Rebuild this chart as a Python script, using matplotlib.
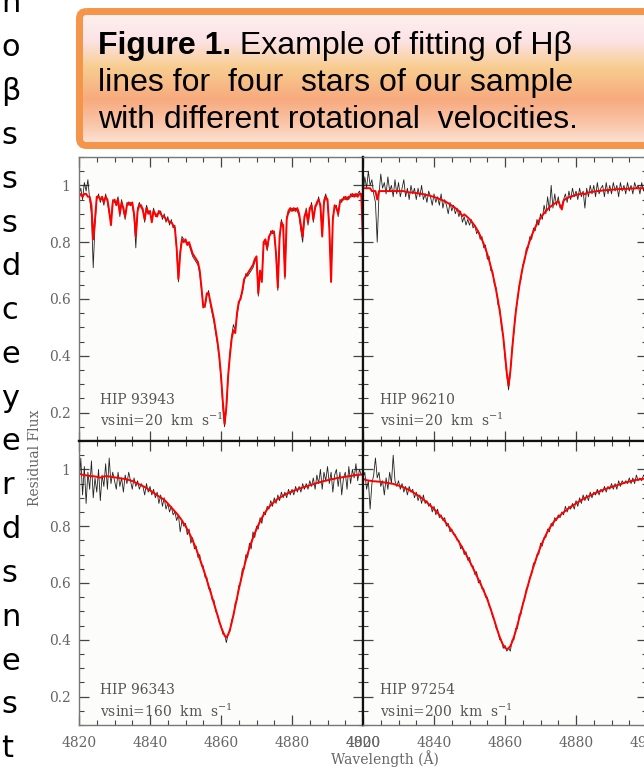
import numpy as np
import matplotlib
matplotlib.use("Agg")
import matplotlib.pyplot as plt
from matplotlib.patches import FancyBboxPatch
from matplotlib.colors import LinearSegmentedColormap
from matplotlib.ticker import MultipleLocator

plt.rcParams['font.family'] = 'DejaVu Serif'
plt.rcParams['mathtext.fontset'] = 'dejavuserif'

# wavelength grid of the spectra (Angstrom)
wave = np.arange(4820.0, 4900.01, 0.5)

stars = ["HIP 93943", "HIP 96210", "HIP 96343", "HIP 97254"]
vsini = [20, 20, 160, 200]

xtick_vals = [4820, 4840, 4860, 4880, 4900]
ytick_vals = [0.2, 0.4, 0.6, 0.8, 1.0]
ytick_labels = ["0.2", "0.4", "0.6", "0.8", "1"]

# letters cut from the text of the neighbouring slide column
side_letters = ['n', 'o', 'β', 's', 's', 's', 'd', 'c', 'e',
                'y', 'e', 'r', 'd', 's', 'n', 'e', 's', 't']

caption_lines = ["lines for  four  stars of our sample",
                 "with different rotational  velocities."]

# HIP 93943 (vsini = 20)
obs_93943 = [
    0.97, 0.99, 0.95, 1.01, 0.98, 1.02, 0.95, 0.90, 0.71, 0.86,
    0.95, 0.97, 0.94, 0.96, 0.93, 0.97, 0.94, 0.90, 0.87, 0.95,
    0.94, 0.94, 0.96, 0.89, 0.95, 0.91, 0.88, 0.94, 0.93, 0.94,
    0.93, 0.89, 0.78, 0.92, 0.94, 0.92, 0.92, 0.87, 0.93, 0.91,
    0.90, 0.88, 0.92, 0.89, 0.90, 0.90, 0.91, 0.88, 0.90, 0.87,
    0.89, 0.86, 0.88, 0.85, 0.86, 0.77, 0.66, 0.77, 0.82, 0.81,
    0.80, 0.80, 0.79, 0.77, 0.75, 0.74, 0.73, 0.72, 0.69, 0.63,
    0.58, 0.57, 0.61, 0.63, 0.58, 0.55, 0.52, 0.48, 0.44, 0.39,
    0.32, 0.22, 0.15, 0.21, 0.32, 0.41, 0.47, 0.51, 0.49, 0.54,
    0.58, 0.61, 0.62, 0.66, 0.69, 0.68, 0.69, 0.70, 0.71, 0.73,
    0.74, 0.61, 0.69, 0.67, 0.79, 0.80, 0.77, 0.81, 0.84, 0.83,
    0.84, 0.75, 0.63, 0.81, 0.88, 0.85, 0.67, 0.89, 0.90, 0.91,
    0.92, 0.91, 0.92, 0.91, 0.89, 0.84, 0.80, 0.88, 0.92, 0.86,
    0.91, 0.94, 0.87, 0.93, 0.93, 0.96, 0.92, 0.83, 0.95, 0.97,
    0.94, 0.86, 0.67, 0.89, 0.92, 0.93, 0.89, 0.95, 0.94, 0.96,
    0.95, 0.96, 0.95, 0.97, 0.96, 0.97, 0.96, 0.97, 0.98, 0.96,
    0.97]
fit_93943 = [
    0.96, 0.97, 0.96, 0.97, 0.97, 0.96, 0.96, 0.93, 0.81, 0.88,
    0.96, 0.96, 0.95, 0.96, 0.94, 0.96, 0.95, 0.91, 0.86, 0.94,
    0.95, 0.93, 0.95, 0.90, 0.94, 0.92, 0.89, 0.93, 0.94, 0.93,
    0.94, 0.90, 0.82, 0.91, 0.93, 0.93, 0.91, 0.88, 0.92, 0.90,
    0.91, 0.87, 0.91, 0.90, 0.89, 0.91, 0.90, 0.89, 0.89, 0.88,
    0.88, 0.87, 0.87, 0.86, 0.85, 0.78, 0.67, 0.76, 0.81, 0.80,
    0.81, 0.79, 0.80, 0.78, 0.76, 0.75, 0.74, 0.73, 0.70, 0.64,
    0.57, 0.58, 0.62, 0.62, 0.59, 0.56, 0.53, 0.49, 0.45, 0.40,
    0.33, 0.24, 0.16, 0.22, 0.33, 0.40, 0.46, 0.49, 0.48, 0.55,
    0.59, 0.60, 0.63, 0.67, 0.68, 0.69, 0.70, 0.71, 0.72, 0.74,
    0.75, 0.62, 0.70, 0.66, 0.80, 0.81, 0.78, 0.82, 0.83, 0.84,
    0.83, 0.76, 0.64, 0.82, 0.87, 0.86, 0.68, 0.88, 0.91, 0.92,
    0.91, 0.92, 0.91, 0.92, 0.90, 0.86, 0.82, 0.89, 0.91, 0.87,
    0.92, 0.93, 0.88, 0.92, 0.94, 0.95, 0.93, 0.82, 0.94, 0.96,
    0.95, 0.85, 0.66, 0.88, 0.93, 0.92, 0.90, 0.94, 0.95, 0.95,
    0.96, 0.95, 0.96, 0.96, 0.97, 0.96, 0.97, 0.96, 0.97, 0.97,
    0.80]

# HIP 96210 (vsini = 20)
obs_96210 = [
    0.97, 1.03, 0.99, 1.05, 1.00, 1.02, 0.97, 0.94, 0.80, 0.97,
    1.04, 0.99, 1.01, 0.97, 1.03, 0.98, 1.00, 0.96, 1.02, 0.97,
    1.01, 0.96, 0.99, 1.02, 0.96, 0.99, 0.95, 1.00, 0.97, 0.99,
    0.95, 0.99, 0.96, 1.00, 0.95, 0.97, 0.94, 0.98, 0.96, 0.93,
    0.97, 0.94, 0.96, 0.93, 0.97, 0.92, 0.95, 0.93, 0.90, 0.94,
    0.91, 0.93, 0.90, 0.92, 0.89, 0.91, 0.87, 0.89, 0.86, 0.88,
    0.86, 0.88, 0.85, 0.86, 0.83, 0.84, 0.81, 0.82, 0.78, 0.79,
    0.74, 0.75, 0.70, 0.70, 0.65, 0.64, 0.58, 0.57, 0.50, 0.47,
    0.39, 0.33, 0.28, 0.34, 0.43, 0.48, 0.56, 0.59, 0.65, 0.67,
    0.72, 0.73, 0.78, 0.78, 0.82, 0.81, 0.85, 0.84, 0.88, 0.86,
    0.90, 0.88, 0.93, 0.90, 0.96, 0.91, 1.00, 0.92, 0.97, 0.93,
    0.96, 0.92, 0.93, 0.95, 0.97, 0.94, 0.98, 0.95, 0.99, 0.96,
    0.98, 0.95, 0.99, 0.96, 0.98, 0.92, 0.99, 0.96, 1.00, 0.97,
    1.00, 0.96, 1.01, 0.97, 0.99, 1.00, 0.96, 1.01, 0.97, 1.00,
    0.97, 1.01, 0.98, 1.00, 0.96, 1.01, 0.98, 1.00, 0.97, 1.01,
    0.98, 1.00, 0.97, 1.01, 0.99, 1.00, 0.97, 1.01, 0.98, 1.00,
    0.99]
fit_96210 = [
    0.99, 0.99, 0.99, 0.99, 0.99, 0.98, 0.98, 0.98, 0.95, 0.98,
    0.98, 0.98, 0.98, 0.98, 0.98, 0.98, 0.98, 0.98, 0.98, 0.98,
    0.98, 0.98, 0.98, 0.98, 0.977, 0.977, 0.975, 0.975, 0.975, 0.974,
    0.973, 0.972, 0.971, 0.970, 0.969, 0.968, 0.966, 0.965, 0.963, 0.961,
    0.959, 0.957, 0.955, 0.952, 0.950, 0.947, 0.944, 0.941, 0.937, 0.933,
    0.929, 0.925, 0.920, 0.915, 0.910, 0.900, 0.892, 0.898, 0.893, 0.887,
    0.881, 0.874, 0.866, 0.857, 0.847, 0.836, 0.823, 0.809, 0.794, 0.777,
    0.758, 0.737, 0.714, 0.689, 0.661, 0.630, 0.596, 0.558, 0.515, 0.466,
    0.405, 0.340, 0.295, 0.345, 0.420, 0.490, 0.550, 0.600, 0.643, 0.680,
    0.712, 0.740, 0.765, 0.787, 0.806, 0.823, 0.838, 0.852, 0.864, 0.875,
    0.885, 0.894, 0.902, 0.909, 0.916, 0.922, 0.927, 0.932, 0.936, 0.940,
    0.944, 0.930, 0.915, 0.946, 0.952, 0.955, 0.958, 0.960, 0.962, 0.964,
    0.966, 0.968, 0.969, 0.971, 0.972, 0.968, 0.974, 0.975, 0.976, 0.977,
    0.978, 0.979, 0.980, 0.981, 0.981, 0.982, 0.983, 0.983, 0.984, 0.984,
    0.985, 0.985, 0.986, 0.986, 0.987, 0.987, 0.987, 0.988, 0.988, 0.988,
    0.989, 0.989, 0.989, 0.989, 0.990, 0.990, 0.990, 0.990, 0.990, 0.990,
    0.990]

# HIP 96343 (vsini = 160)
obs_96343 = [
    0.94, 1.04, 0.91, 1.01, 0.88, 0.99, 0.93, 1.03, 0.90, 0.97,
    0.92, 1.00, 0.89, 0.98, 0.94, 1.02, 0.93, 1.04, 0.95, 0.99,
    0.96, 0.93, 0.99, 0.94, 0.97, 0.92, 0.98, 0.95, 0.99, 0.96,
    0.93, 0.97, 0.94, 0.96, 0.93, 0.95, 0.94, 0.91, 0.95, 0.92,
    0.94, 0.91, 0.93, 0.90, 0.92, 0.88, 0.91, 0.87, 0.90, 0.86,
    0.88, 0.85, 0.87, 0.84, 0.85, 0.82, 0.84, 0.78, 0.82, 0.80,
    0.81, 0.77, 0.79, 0.74, 0.76, 0.72, 0.73, 0.69, 0.70, 0.66,
    0.66, 0.62, 0.62, 0.58, 0.58, 0.54, 0.54, 0.50, 0.49, 0.46,
    0.45, 0.42, 0.42, 0.39, 0.42, 0.43, 0.47, 0.48, 0.53, 0.54,
    0.59, 0.60, 0.65, 0.65, 0.70, 0.69, 0.74, 0.72, 0.78, 0.76,
    0.80, 0.79, 0.83, 0.81, 0.85, 0.84, 0.87, 0.86, 0.89, 0.87,
    0.90, 0.88, 0.91, 0.89, 0.92, 0.90, 0.92, 0.90, 0.93, 0.91,
    0.93, 0.91, 0.94, 0.92, 0.94, 0.92, 0.95, 0.93, 0.95, 0.93,
    0.96, 0.94, 0.97, 0.93, 0.98, 0.95, 1.00, 0.93, 0.99, 0.96,
    1.01, 0.95, 0.99, 0.92, 0.98, 1.00, 0.94, 0.99, 0.91, 0.97,
    0.99, 0.93, 1.01, 0.95, 1.00, 0.97, 1.02, 0.96, 1.00, 0.98,
    0.99]
fit_96343 = [
    0.985, 0.983, 0.981, 0.980, 0.979, 0.978, 0.977, 0.976, 0.976, 0.975,
    0.974, 0.972, 0.971, 0.973, 0.975, 0.976, 0.976, 0.975, 0.974, 0.973,
    0.972, 0.971, 0.970, 0.969, 0.968, 0.967, 0.966, 0.965, 0.963, 0.961,
    0.959, 0.956, 0.953, 0.950, 0.947, 0.944, 0.941, 0.938, 0.934, 0.930,
    0.926, 0.922, 0.918, 0.913, 0.909, 0.905, 0.901, 0.897, 0.893, 0.887,
    0.880, 0.873, 0.866, 0.859, 0.852, 0.845, 0.837, 0.829, 0.820, 0.810,
    0.800, 0.789, 0.777, 0.764, 0.750, 0.735, 0.720, 0.703, 0.686, 0.668,
    0.650, 0.631, 0.611, 0.591, 0.570, 0.549, 0.528, 0.506, 0.485, 0.465,
    0.445, 0.430, 0.415, 0.408, 0.418, 0.435, 0.460, 0.488, 0.518, 0.548,
    0.577, 0.605, 0.632, 0.657, 0.681, 0.703, 0.723, 0.742, 0.759, 0.775,
    0.790, 0.804, 0.817, 0.829, 0.840, 0.850, 0.859, 0.867, 0.874, 0.880,
    0.886, 0.891, 0.896, 0.900, 0.904, 0.908, 0.911, 0.914, 0.917, 0.920,
    0.922, 0.925, 0.927, 0.929, 0.932, 0.934, 0.936, 0.938, 0.940, 0.942,
    0.944, 0.946, 0.948, 0.950, 0.952, 0.954, 0.955, 0.957, 0.959, 0.960,
    0.962, 0.963, 0.965, 0.966, 0.967, 0.969, 0.970, 0.971, 0.972, 0.973,
    0.974, 0.975, 0.976, 0.977, 0.978, 0.979, 0.980, 0.980, 0.981, 0.982,
    0.982]

# HIP 97254 (vsini = 200)
obs_97254 = [
    0.97, 0.99, 0.93, 0.96, 0.86, 0.95, 0.98, 1.04, 0.97, 0.99,
    0.94, 0.96, 0.91, 0.97, 0.93, 0.99, 0.95, 1.05, 0.96, 0.94,
    0.96, 0.93, 0.95, 0.92, 0.94, 0.91, 0.94, 0.92, 0.93, 0.90,
    0.92, 0.89, 0.91, 0.88, 0.91, 0.88, 0.89, 0.87, 0.88, 0.85,
    0.87, 0.84, 0.86, 0.83, 0.84, 0.82, 0.83, 0.80, 0.81, 0.78,
    0.79, 0.77, 0.77, 0.75, 0.75, 0.72, 0.73, 0.70, 0.71, 0.68,
    0.69, 0.66, 0.66, 0.63, 0.64, 0.60, 0.61, 0.58, 0.58, 0.55,
    0.55, 0.52, 0.51, 0.48, 0.47, 0.44, 0.43, 0.40, 0.40, 0.37,
    0.38, 0.36, 0.37, 0.36, 0.40, 0.40, 0.44, 0.44, 0.49, 0.49,
    0.53, 0.54, 0.58, 0.59, 0.62, 0.63, 0.67, 0.67, 0.70, 0.70,
    0.74, 0.73, 0.76, 0.76, 0.79, 0.78, 0.81, 0.80, 0.83, 0.82,
    0.84, 0.83, 0.85, 0.84, 0.87, 0.85, 0.87, 0.86, 0.88, 0.86,
    0.89, 0.87, 0.90, 0.88, 0.91, 0.89, 0.91, 0.89, 0.92, 0.90,
    0.92, 0.91, 0.93, 0.91, 0.93, 0.92, 0.94, 0.92, 0.94, 0.93,
    0.95, 0.93, 0.95, 0.93, 0.96, 0.94, 0.96, 0.95, 0.96, 0.95,
    0.97, 0.95, 0.97, 0.95, 0.98, 0.96, 0.97, 0.96, 0.98, 0.97,
    0.97]
fit_97254 = [
    0.968, 0.964, 0.962, 0.961, 0.960, 0.959, 0.958, 0.958, 0.957, 0.957,
    0.956, 0.955, 0.954, 0.953, 0.952, 0.951, 0.950, 0.949, 0.947, 0.945,
    0.943, 0.941, 0.939, 0.936, 0.933, 0.930, 0.927, 0.924, 0.920, 0.916,
    0.912, 0.908, 0.904, 0.899, 0.894, 0.889, 0.884, 0.878, 0.872, 0.866,
    0.860, 0.854, 0.847, 0.840, 0.833, 0.826, 0.818, 0.810, 0.802, 0.793,
    0.784, 0.775, 0.765, 0.755, 0.745, 0.734, 0.723, 0.712, 0.701, 0.689,
    0.677, 0.665, 0.652, 0.639, 0.626, 0.613, 0.600, 0.586, 0.572, 0.558,
    0.543, 0.525, 0.507, 0.488, 0.468, 0.448, 0.428, 0.410, 0.394, 0.381,
    0.372, 0.368, 0.370, 0.378, 0.392, 0.410, 0.430, 0.452, 0.476, 0.500,
    0.524, 0.548, 0.571, 0.594, 0.616, 0.637, 0.657, 0.676, 0.694, 0.711,
    0.727, 0.742, 0.756, 0.769, 0.781, 0.792, 0.802, 0.811, 0.819, 0.826,
    0.832, 0.838, 0.844, 0.849, 0.854, 0.859, 0.864, 0.868, 0.872, 0.876,
    0.880, 0.884, 0.888, 0.892, 0.896, 0.899, 0.902, 0.905, 0.908, 0.911,
    0.914, 0.917, 0.920, 0.922, 0.925, 0.927, 0.930, 0.932, 0.934, 0.936,
    0.938, 0.940, 0.942, 0.944, 0.946, 0.948, 0.950, 0.952, 0.954, 0.956,
    0.957, 0.959, 0.960, 0.962, 0.963, 0.964, 0.965, 0.966, 0.967, 0.968,
    0.969]

observed = [obs_93943, obs_96210, obs_96343, obs_97254]
fitted = [fit_93943, fit_96210, fit_96343, fit_97254]

fig = plt.figure(figsize=(6.44, 7.68), dpi=100)

# background layer in pixel units for the slide decorations
bg = fig.add_axes([0, 0, 1, 1])

for i, ch in enumerate(side_letters):
    bg.text(1, 4 + 43.8 * i, ch, fontsize=22, family='DejaVu Sans',
            va='center', ha='left', color='black')

# caption box with orange gradient
cmap = LinearSegmentedColormap.from_list('caption', [
    (0.0, '#fdf1ef'), (0.22, '#fce3e6'), (0.42, '#f8cd90'),
    (0.66, '#f7aa7e'), (0.86, '#fac8ad'), (1.0, '#fde6d9')])
grad = np.linspace(0, 1, 256).reshape(-1, 1)
im = bg.imshow(grad, extent=[79.5, 700, 145.5, 11.5], aspect='auto',
               cmap=cmap, zorder=2)
box = FancyBboxPatch((79.5, 11.5), 620, 134,
                     boxstyle='round,pad=0,rounding_size=7',
                     facecolor='none', edgecolor='#f4954a', lw=5, zorder=3)
bg.add_patch(box)
im.set_clip_path(box)

t1 = bg.text(98, 54, "Figure 1.", fontsize=23, fontweight='bold',
             family='Liberation Sans', va='baseline', zorder=4)
bg.annotate(" Example of fitting of Hβ", xy=(1, 0), xycoords=t1,
            va='bottom', ha='left', fontsize=23, family='Liberation Sans',
            zorder=4)
for k, line in enumerate(caption_lines):
    bg.text(98, 91 + 37 * k, line, fontsize=23, family='Liberation Sans',
            va='baseline', zorder=4)

bg.text(35, 458, "Residual Flux", rotation=90, fontsize=10, color='#666',
        ha='center', va='center')
bg.text(385, 759, "Wavelength (Å)", fontsize=10, color='#666',
        ha='center', va='center')

bg.set_xlim(0, 644)
bg.set_ylim(768, 0)
bg.axis('off')

positions = [[0.1227, 0.4258, 0.441, 0.3698],
             [0.5637, 0.4258, 0.441, 0.3698],
             [0.1227, 0.056, 0.441, 0.3698],
             [0.5637, 0.056, 0.441, 0.3698]]
label_y = [(0.144, 0.072), (0.144, 0.072), (0.123, 0.049), (0.123, 0.049)]

for n in range(4):
    ax = fig.add_axes(positions[n])
    ax.set_facecolor('#fcfcfa')
    ax.plot(wave, observed[n], color='#222222', lw=0.6)
    ax.plot(wave, fitted[n], color='#ff0000', lw=1.4)
    ax.set_xlim(4820, 4900)
    ax.set_ylim(0.1, 1.1)

    ax.set_xticks(xtick_vals)
    ax.xaxis.set_minor_locator(MultipleLocator(5))
    ax.set_yticks(ytick_vals)
    ax.set_yticklabels(ytick_labels)
    ax.yaxis.set_minor_locator(MultipleLocator(0.05))
    ax.tick_params(which='both', direction='in', top=True, right=True,
                   color='#444', labelcolor='#666', labelsize=10)
    ax.tick_params(which='major', length=7, width=0.9)
    ax.tick_params(which='minor', length=3.5, width=0.8)
    ax.tick_params(axis='y', pad=6)
    ax.tick_params(axis='x', pad=8)
    if n % 2 == 1:
        ax.tick_params(labelleft=False)
    if n < 2:
        ax.tick_params(labelbottom=False)

    for side in ['left', 'right', 'top', 'bottom']:
        ax.spines[side].set_color('#777')
        ax.spines[side].set_linewidth(1.0)
    inner = ['right' if n % 2 == 0 else 'left', 'bottom' if n < 2 else 'top']
    for side in inner:
        ax.spines[side].set_color('#111')
        ax.spines[side].set_linewidth(1.6)

    xl = 0.075 if n % 2 == 0 else 0.06
    ax.text(xl, label_y[n][0], stars[n], transform=ax.transAxes,
            fontsize=10, color='#555', va='center')
    ax.text(xl, label_y[n][1], "vsini=%d  km  s$^{-1}$" % vsini[n],
            transform=ax.transAxes, fontsize=10, color='#555', va='center')

fig.savefig("out.png", dpi=100)
